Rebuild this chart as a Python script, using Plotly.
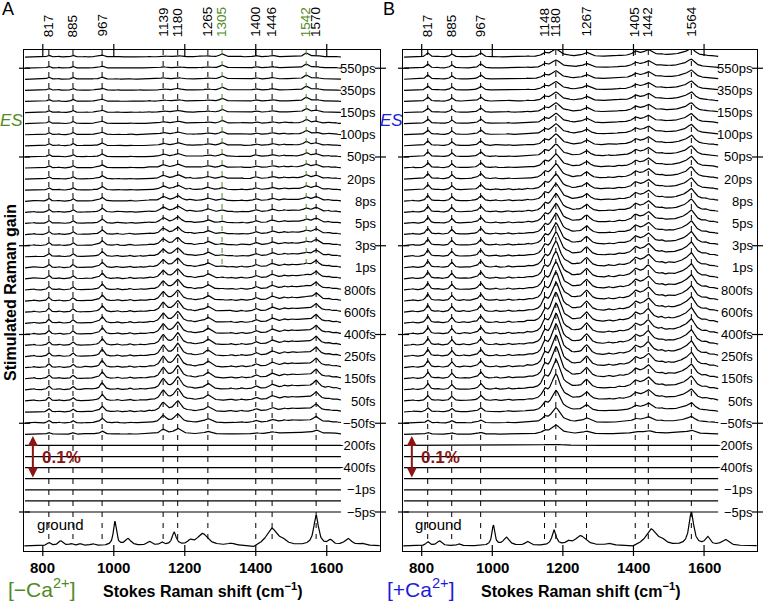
import numpy as np
import plotly.graph_objects as go

W, H = 763, 604
FONT = "Liberation Sans, Arial, sans-serif"
GREEN = "#4f8a23"
BLUE = "#1c1cdc"
RED = "#8b1414"

# ---------------- data (gain in units of 0.01 %) ----------------
# delay labels, bottom (k=0) to top (k=41); "" = unlabelled intermediate trace
DELAY_LABELS = ["−5ps", "", "−1ps", "", "−400fs", "", "−200fs", "", "−50fs", "",
                "50fs", "", "150fs", "", "250fs", "", "400fs", "", "600fs", "",
                "800fs", "", "1ps", "", "3ps", "", "5ps", "", "8ps", "",
                "20ps", "", "50ps", "", "100ps", "", "150ps", "", "350ps", "",
                "550ps", ""]
TRACE_SPACING = 2.58          # vertical offset between traces (0.01 %)
GROUND_OFFSET = -7.9          # baseline of ground-state spectrum
SCALE_BAR = 10.0              # 0.1 %

# populations of early / late excited-state species for each trace
POP_EARLY_A = [0, 0, 0, 0, 0, 0, 0.03, 0.45, 0.7, 0.85, 0.95, 1, 1, 1, 1, 0.95, 0.92, 0.88,
               0.85, 0.8, 0.76, 0.72, 0.68, 0.62, 0.55, 0.5, 0.45, 0.4, 0.35, 0.3, 0.25, 0.2,
               0.16, 0.13, 0.1, 0.08, 0.06, 0.05, 0.04, 0.03, 0.02, 0.02]
POP_LATE_A = [0] * 14 + [0.05, 0.1, 0.15, 0.2, 0.25, 0.3, 0.35, 0.4, 0.45, 0.5, 0.55, 0.6,
                         0.65, 0.7, 0.75, 0.8, 0.85, 0.9, 0.95] + [1] * 9
POP_EARLY_B = [0, 0, 0, 0, 0, 0, 0.05, 0.3, 0.5, 0.7, 0.85, 0.95, 1, 1, 1, 0.97, 0.93, 0.9,
               0.86, 0.82, 0.78, 0.74, 0.7, 0.64, 0.56, 0.5, 0.45, 0.4, 0.35, 0.3, 0.26, 0.22,
               0.18, 0.15, 0.12, 0.1, 0.08, 0.07, 0.05, 0.04, 0.03, 0.03]
POP_LATE_B = [0] * 10 + [0.05, 0.1, 0.15, 0.2, 0.25, 0.3, 0.35, 0.4, 0.45, 0.5, 0.55, 0.6,
                         0.65, 0.7, 0.75, 0.8, 0.85, 0.9, 0.93, 0.96] + [1] * 12

# excited-state bands: position (cm-1), half width, early amplitude, late amplitude
BAND_POS_A = [817, 885, 967, 1139, 1180, 1265, 1305, 1400, 1446, 1520, 1542, 1570]
BAND_HW_A = [5, 5, 7, 10, 12, 11, 8, 8, 10, 60, 8, 10]
BAND_EARLY_A = [0.9, 0.8, 1.6, 2.4, 2.9, 1.4, 0.0, 0.7, 0.9, 0.9, 0.0, 1.7]
BAND_LATE_A = [0.45, 0.45, 0.45, 0.25, 0.3, 0.25, 0.7, 0.35, 0.35, 0.0, 0.9, 0.35]

BAND_POS_B = [817, 885, 967, 1148, 1180, 1267, 1405, 1430, 1442, 1545, 1564]
BAND_HW_B = [6, 6, 7, 8, 16, 12, 8, 45, 10, 35, 12]
BAND_EARLY_B = [1.4, 1.15, 1.4, 2.1, 7.0, 2.1, 1.0, 1.4, 1.5, 1.15, 2.1]
BAND_LATE_B = [0.9, 0.7, 0.9, 0.7, 1.6, 0.9, 0.7, 0.7, 0.9, 0.7, 1.4]

# weak excited-state features
MINOR_POS = [775, 845, 920, 945, 1010, 1045, 1075, 1100, 1215, 1240, 1330, 1360, 1480,
             1500, 1605, 1625]
MINOR_AMP = [0.25, 0.3, 0.25, 0.2, 0.3, 0.35, 0.2, 0.3, 0.35, 0.25, 0.3, 0.3, 0.4, 0.3,
             0.35, 0.3]
MINOR_HW = 5

# ground-state spectra
GROUND_POS_A = [817, 850, 880, 905, 940, 1003, 1040, 1100, 1135, 1170, 1215, 1250, 1330,
                1390, 1445, 1475, 1570, 1610, 1660, 1700]
GROUND_AMP_A = [0.7, 1.15, 0.45, 0.45, 0.45, 5.6, 1.6, 0.9, 0.7, 3.0, 0.9, 2.8, 0.45,
                -0.7, 4.0, 0.9, 7.0, 1.15, 1.6, 0.45]
GROUND_HW_A = [6, 8, 6, 6, 8, 5, 10, 8, 6, 7, 8, 18, 10, 15, 18, 12, 8, 8, 12, 10]

GROUND_POS_B = [817, 850, 905, 1003, 1040, 1100, 1175, 1215, 1250, 1330, 1395, 1450, 1480,
                1564, 1610, 1660]
GROUND_AMP_B = [0.9, 1.15, 0.45, 4.7, 1.9, 0.9, 3.5, 0.7, 2.3, 0.45, -0.5, 3.8, 0.9, 7.7,
                1.9, 1.4]
GROUND_HW_B = [6, 8, 6, 5, 10, 8, 7, 8, 18, 10, 15, 18, 12, 8, 8, 12]

# labelled peaks (top) ; highlighted (green) ones in panel A
PEAKS_A = [817, 885, 967, 1139, 1180, 1265, 1305, 1400, 1446, 1542, 1570]
GREEN_PEAKS_A = [1305, 1542]
PEAKS_B = [817, 885, 967, 1148, 1180, 1267, 1405, 1442, 1564]

X_TICKS = [800, 1000, 1200, 1400, 1600]
X_RANGE = [747, 1750]
TRACE_X = np.arange(750, 1641, 1.0)
GROUND_X = np.arange(748, 1750, 1.0)


def lorentz_sum(x, pos, amp, hw):
    y = np.zeros_like(x)
    for p, a, w in zip(pos, amp, hw):
        y += a / (1 + ((x - p) / w) ** 2)
    return y


def px_x(px):
    return px / W


def px_y(py):
    return 1 - py / H


Y_TOP = (512 - 50) / 4.3
Y_BOT = (512 - 551) / 4.3

fig = go.Figure()
shapes = []
annotations = []

panels = [
    dict(xa="x", ya="y", dom=[24, 380], pos=BAND_POS_A, hw=BAND_HW_A, ea=BAND_EARLY_A,
         la=BAND_LATE_A, pe=POP_EARLY_A, pl=POP_LATE_A, gp=GROUND_POS_A, ga=GROUND_AMP_A,
         gh=GROUND_HW_A, peaks=PEAKS_A, green=GREEN_PEAKS_A, letter="A",
         tag="[−Ca<sup>2+</sup>]", col=GREEN, letter_x=8),
    dict(xa="x2", ya="y2", dom=[403, 757], pos=BAND_POS_B, hw=BAND_HW_B, ea=BAND_EARLY_B,
         la=BAND_LATE_B, pe=POP_EARLY_B, pl=POP_LATE_B, gp=GROUND_POS_B, ga=GROUND_AMP_B,
         gh=GROUND_HW_B, peaks=PEAKS_B, green=[], letter="B",
         tag="[+Ca<sup>2+</sup>]", col=BLUE, letter_x=389),
]

early_minor = lorentz_sum(TRACE_X, MINOR_POS, MINOR_AMP, [MINOR_HW] * len(MINOR_POS))

for P in panels:
    xa, ya = P["xa"], P["ya"]
    early = lorentz_sum(TRACE_X, P["pos"], P["ea"], P["hw"]) + early_minor
    late = lorentz_sum(TRACE_X, P["pos"], P["la"], P["hw"]) + 0.5 * early_minor
    for k in range(len(DELAY_LABELS)):
        y = k * TRACE_SPACING + P["pe"][k] * early + P["pl"][k] * late
        fig.add_trace(go.Scatter(x=TRACE_X, y=y, mode="lines", xaxis=xa, yaxis=ya,
                                 line=dict(color="black", width=1.2), hoverinfo="skip",
                                 showlegend=False))
        if DELAY_LABELS[k]:
            annotations.append(dict(x=X_RANGE[1], y=k * TRACE_SPACING, xref=xa, yref=ya,
                                    text=DELAY_LABELS[k], showarrow=False, xanchor="right",
                                    yanchor="middle", xshift=-2,
                                    font=dict(family=FONT, size=13, color="black")))
    g = GROUND_OFFSET + lorentz_sum(GROUND_X, P["gp"], P["ga"], P["gh"])
    fig.add_trace(go.Scatter(x=GROUND_X, y=g, mode="lines", xaxis=xa, yaxis=ya,
                             line=dict(color="black", width=1.2), hoverinfo="skip",
                             showlegend=False))

    # dashed peak markers + rotated labels
    for pk in P["peaks"]:
        is_green = pk in P["green"]
        c = GREEN if is_green else "black"
        shapes.append(dict(type="line", xref=xa, yref=ya, x0=pk, x1=pk, y0=Y_TOP,
                           y1=57.0 if is_green else -6.5,
                           line=dict(color=c, width=1, dash="5px,6px")))
        annotations.append(dict(x=pk, y=px_y(39), xref=xa, yref="paper", text=str(pk),
                                showarrow=False, textangle=-90, xanchor="center",
                                yanchor="bottom",
                                font=dict(family=FONT, size=13.5, color=c)))
    # major ticks crossing top / bottom frame, bottom tick labels
    for t in X_TICKS:
        shapes.append(dict(type="line", xref=xa, yref="paper", x0=t, x1=t,
                           y0=px_y(44), y1=px_y(56), line=dict(color="black", width=1.2)))
        shapes.append(dict(type="line", xref=xa, yref="paper", x0=t, x1=t,
                           y0=px_y(556), y1=px_y(545), line=dict(color="black", width=1.2)))
        annotations.append(dict(x=t, y=px_y(567), xref=xa, yref="paper", text=f"<b>{t}</b>",
                                showarrow=False, xanchor="center", yanchor="middle",
                                font=dict(family=FONT, size=15, color="black")))
    # y ticks crossing left / right frame every 8 traces
    l, r = P["dom"]
    for k in range(0, len(DELAY_LABELS), 8):
        for xc in (l, r):
            shapes.append(dict(type="line", xref="paper", yref=ya,
                               x0=px_x(xc - 5), x1=px_x(xc + 6),
                               y0=k * TRACE_SPACING, y1=k * TRACE_SPACING,
                               line=dict(color="black", width=1.2)))
    # scale bar
    annotations.append(dict(x=772, y=8.0, ax=772, ay=8.0 + SCALE_BAR, xref=xa, yref=ya,
                            axref=xa, ayref=ya, text="", showarrow=True, arrowhead=2,
                            arrowside="end+start", arrowsize=1, arrowwidth=2,
                            arrowcolor=RED))
    annotations.append(dict(x=854, y=12.6, xref=xa, yref=ya, text="<b>0.1%</b>",
                            showarrow=False, xanchor="center", yanchor="middle",
                            font=dict(family=FONT, size=17, color=RED)))
    annotations.append(dict(x=849, y=-3.0, xref=xa, yref=ya, text="ground",
                            showarrow=False, xanchor="center", yanchor="middle",
                            font=dict(family=FONT, size=15, color="black")))
    # ES label
    annotations.append(dict(x=px_x(l - 12), y=px_y(121), xref="paper", yref="paper",
                            text="<i>ES</i>", showarrow=False, xanchor="center",
                            yanchor="middle",
                            font=dict(family=FONT, size=17, color=P["col"])))
    # panel letter
    annotations.append(dict(x=px_x(P["letter_x"]), y=px_y(9), xref="paper", yref="paper",
                            text=P["letter"], showarrow=False, xanchor="center",
                            yanchor="middle",
                            font=dict(family=FONT, size=18, color="black")))
    # condition tag
    annotations.append(dict(x=px_x(l + 18), y=px_y(588), xref="paper", yref="paper",
                            text=P["tag"], showarrow=False, xanchor="center",
                            yanchor="middle",
                            font=dict(family=FONT, size=21, color=P["col"])))
    # x title
    annotations.append(dict(x=px_x((l + r) / 2), y=px_y(590), xref="paper", yref="paper",
                            text="<b>Stokes Raman shift (cm<sup>−1</sup>)</b>",
                            showarrow=False, xanchor="center", yanchor="middle",
                            font=dict(family=FONT, size=16, color="black")))

annotations.append(dict(x=px_x(10), y=px_y(293), xref="paper", yref="paper",
                        text="<b>Stimulated Raman gain</b>", textangle=-90, showarrow=False,
                        xanchor="center", yanchor="middle",
                        font=dict(family=FONT, size=16, color="black")))

xcommon = dict(range=X_RANGE, showline=True, mirror=True, linecolor="black", linewidth=1.2,
               ticks="", showticklabels=False, showgrid=False, zeroline=False)
ycommon = dict(range=[Y_BOT, Y_TOP], showline=True, mirror=True, linecolor="black",
               linewidth=1.2, showticklabels=False, ticks="", showgrid=False,
               zeroline=False, domain=[px_y(551), px_y(50)])

fig.update_layout(
    width=W, height=H, margin=dict(l=0, r=0, t=0, b=0),
    paper_bgcolor="white", plot_bgcolor="white", showlegend=False,
    xaxis=dict(domain=[px_x(24), px_x(380)], anchor="y", **xcommon),
    xaxis2=dict(domain=[px_x(403), px_x(757)], anchor="y2", **xcommon),
    yaxis=dict(anchor="x", **ycommon),
    yaxis2=dict(anchor="x2", **ycommon),
    shapes=shapes, annotations=annotations,
)

fig.write_html("out.html", config={"displayModeBar": False, "staticPlot": True},
               post_script="document.body.style.margin='0px';"
               "document.body.style.overflow='hidden';")
